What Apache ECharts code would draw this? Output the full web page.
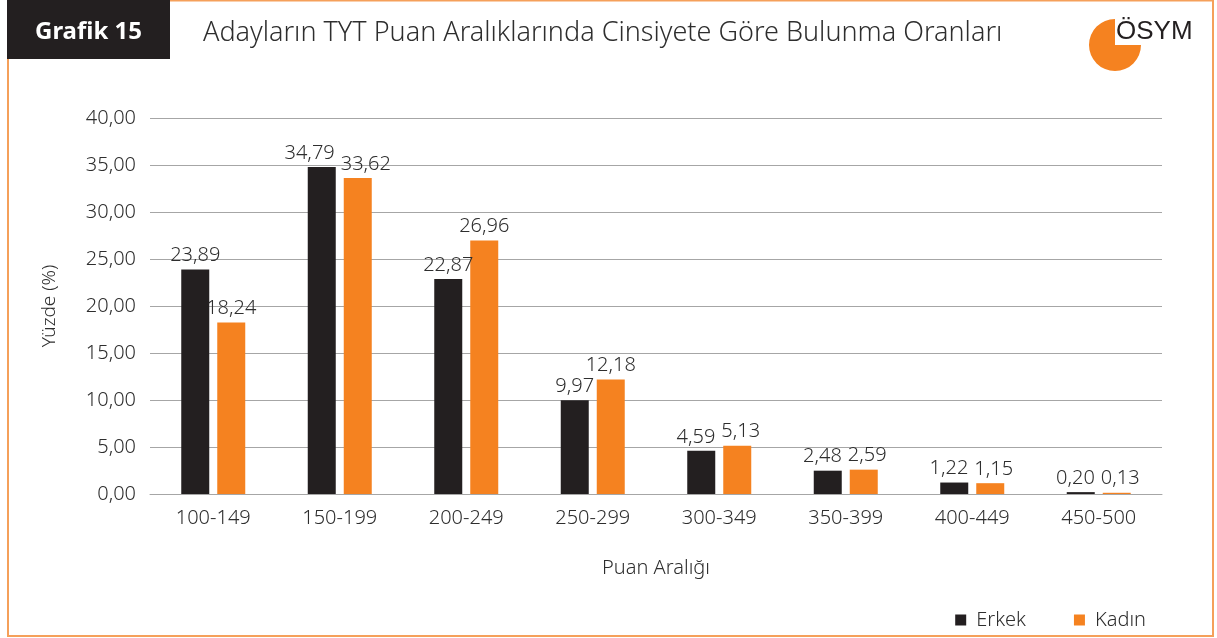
<!DOCTYPE html>
<html>
<head>
<meta charset="utf-8">
<script src="https://cdn.jsdelivr.net/npm/echarts@6/dist/echarts.min.js"></script>
<style>
  html, body { margin: 0; padding: 0; background: #fff; }
  #chart { width: 1217px; height: 638px; }
</style>
</head>
<body>
<div id="chart"></div>
<script>
// TYT puan aralıklarına göre cinsiyet oranları
const categories = ['100-149', '150-199', '200-249', '250-299', '300-349', '350-399', '400-449', '450-500'];
const erkek = [23.89, 34.79, 22.87, 9.97, 4.59, 2.48, 1.22, 0.20];
const kadin = [18.24, 33.62, 26.96, 12.18, 5.13, 2.59, 1.15, 0.13];

const FONT = 'Noto Sans';
const W = 300;
const TXT = '#2e2e2e';
const LABEL_SIZE = 20;
const fmt = v => v.toFixed(2).replace('.', ',');

// grid sabitleri (etiket çakışması için)
const GRID = { left: 150, right: 55, top: 118, bottom: 144 };
const pxPerUnit = (638 - GRID.top - GRID.bottom) / 40;
const BAR_W = 28, BAR_GAP = 8;

const ctx = document.createElement('canvas').getContext('2d');
ctx.font = W + ' ' + LABEL_SIZE + 'px "' + FONT + '"';
const measure = t => ctx.measureText(t).width;

// yan yana etiketler üst üste biniyorsa yana kaydır
function labelShift(si, i) {
  const ve = erkek[i], vk = kadin[i];
  if (Math.abs(ve - vk) * pxPerUnit >= 18) return 0;
  const overlap = (measure(fmt(ve)) + measure(fmt(vk))) / 2 + 6 - (BAR_W + BAR_GAP);
  if (overlap <= 0) return 0;
  return si === 0 ? -overlap * 0.6 : overlap * 0.4;
}

const txt = (size, extra) => Object.assign({ fontFamily: FONT, fontWeight: W, fontSize: size, color: TXT }, extra || {});

const myChart = echarts.init(document.getElementById('chart'));

const option = {
  animation: false,
  textStyle: { fontFamily: FONT },
  title: {
    text: 'Adayların TYT Puan Aralıklarında Cinsiyete Göre Bulunma Oranları',
    left: 198,
    top: 15,
    textStyle: txt(27)
  },
  graphic: [
    // çerçeve
    {
      type: 'rect',
      shape: { x: 8, y: 0.5, width: 1205, height: 635.5 },
      style: { fill: 'none', stroke: '#f5a05a', lineWidth: 2 },
      z: 0
    },
    {
      type: 'rect',
      shape: { x: 7, y: 0, width: 163, height: 59 },
      style: { fill: '#231f20' },
      z: 10
    },
    {
      type: 'text',
      x: 35, y: 20,
      style: { text: 'Grafik 15', fill: '#fff', fontSize: 24, fontWeight: 'bold', fontFamily: FONT },
      z: 11
    },
    // logo
    {
      type: 'sector',
      shape: { cx: 1115, cy: 45, r0: 0, r: 26, startAngle: 0, endAngle: Math.PI * 1.5, clockwise: true },
      style: { fill: '#f58220' },
      z: 10
    },
    {
      type: 'text',
      x: 1116, y: 19,
      style: { text: 'ÖSYM', fill: '#231f20', fontSize: 26, fontFamily: 'Liberation Sans' },
      z: 11
    }
  ],
  legend: {
    data: ['Erkek', 'Kadın'],
    right: 66,
    bottom: 3,
    itemWidth: 11,
    itemHeight: 11,
    itemGap: 48,
    icon: 'rect',
    textStyle: txt(20, { padding: [0, 0, 0, 5] })
  },
  grid: GRID,
  xAxis: {
    type: 'category',
    data: categories,
    name: 'Puan Aralığı',
    nameLocation: 'middle',
    nameGap: 64,
    nameTextStyle: txt(20),
    axisTick: { show: false },
    axisLine: { lineStyle: { color: '#a6a6a6' } },
    axisLabel: txt(20, { margin: 14 })
  },
  yAxis: {
    type: 'value',
    min: 0,
    max: 40,
    interval: 5,
    name: 'Yüzde (%)',
    nameLocation: 'middle',
    nameGap: 91,
    nameRotate: 90,
    nameTextStyle: txt(19),
    axisLabel: txt(20, { margin: 14, formatter: v => fmt(v) }),
    splitLine: { lineStyle: { color: '#a6a6a6' } }
  },
  series: [
    {
      name: 'Erkek',
      type: 'bar',
      data: erkek,
      barWidth: BAR_W,
      barGap: (BAR_GAP / BAR_W * 100) + '%',
      itemStyle: { color: '#231f20' },
      label: txt(LABEL_SIZE, { show: true, position: 'top', distance: 4, formatter: p => fmt(p.value) }),
      labelLayout: p => ({ dx: labelShift(0, p.dataIndex) })
    },
    {
      name: 'Kadın',
      type: 'bar',
      data: kadin,
      barWidth: BAR_W,
      itemStyle: { color: '#f58220' },
      label: txt(LABEL_SIZE, { show: true, position: 'top', distance: 4, formatter: p => fmt(p.value) }),
      labelLayout: p => ({ dx: labelShift(1, p.dataIndex) })
    }
  ]
};

myChart.setOption(option);
</script>
</body>
</html>
